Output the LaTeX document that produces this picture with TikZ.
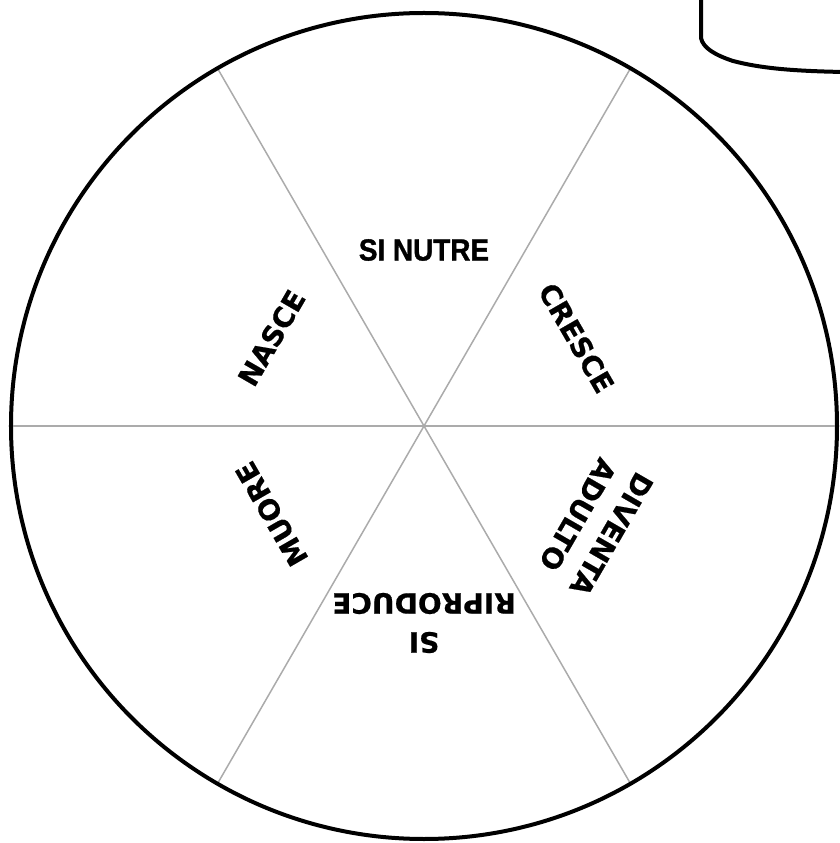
\documentclass[tikz,border=0pt]{standalone}
\usepackage{fontspec}
\setmainfont{Liberation Sans}
\newfontfamily\heavyfont{Liberation Sans Bold}[FakeBold=1.2]
\newfontfamily\widefont{DejaVu Sans Bold}[FakeBold=0.6]
\begin{document}
\begin{tikzpicture}[x=1pt,y=1pt,
  spoke/.style={draw=black!33, line width=1.5pt},
  rim/.style={draw=black, line width=4pt},
  lab/.style={font=\fontsize{28}{39}\selectfont\widefont, inner sep=0pt, align=center},
  toplab/.style={font=\fontsize{30}{39}\selectfont\heavyfont, inner sep=0pt}]
\useasboundingbox (-424,-417) rectangle (416,426);
\begin{scope}
\clip (-424,-417) rectangle (416,426);
\coordinate (c) at (0,0);
\foreach \a in {0,60,...,300} {
  \coordinate (e\a) at (\a:412);
  \draw[spoke] (c) -- (e\a);
}
\node[rim, circle, minimum size=826pt, inner sep=0pt] (wheel) at (c) {};
% partial rounded box at top right
\coordinate (b0) at (277,430);
\coordinate (b1) at (277,388);
\coordinate (b2) at (309,365);
\coordinate (b3) at (420,354);
\draw[rim, line cap=round, line join=round] (b0) -- (b1) .. controls (279,378) and (291,371) .. (b2) .. controls (336,358) and (366,355) .. (b3);
\end{scope}
\node[toplab, xscale=0.93, yscale=1.02] (nutre) at (90:176) {SI NUTRE};
\node[lab, rotate=-60] (cresce) at (30:176) {CRESCE};
\node[lab, rotate=-120] (diventa) at (-30:197) {DIVENTA\\ADULTO};
\node[lab, rotate=180] (ripro) at (-90:197) {SI\\RIPRODUCE};
\node[lab, rotate=120] (muore) at (-150:176) {MUORE};
\node[lab, rotate=60] (nasce) at (150:176) {NASCE};
\end{tikzpicture}
\end{document}
